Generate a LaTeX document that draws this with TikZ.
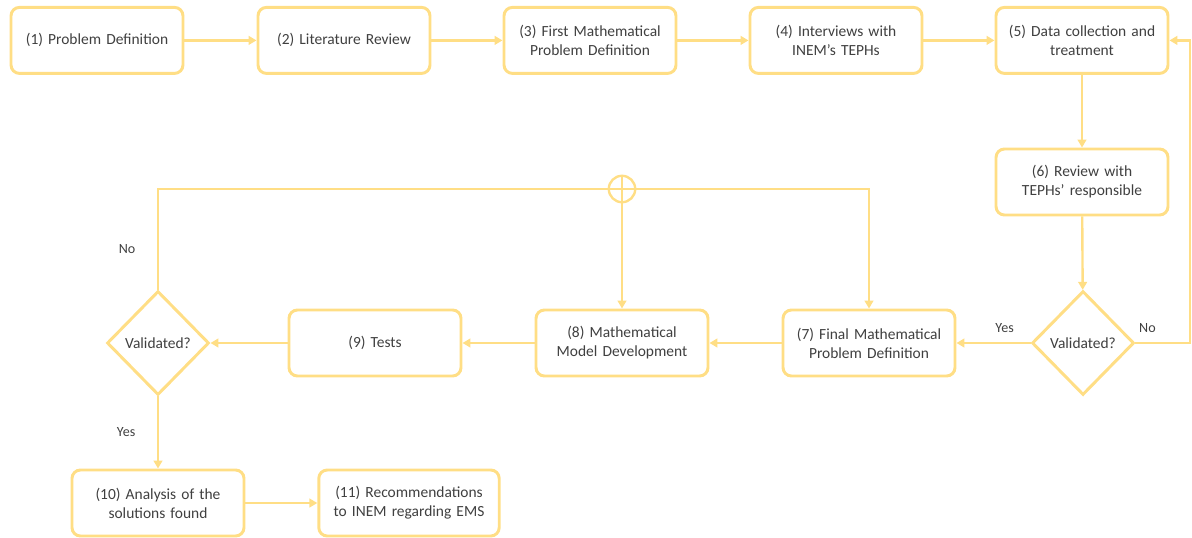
\documentclass[tikz,border=0pt]{standalone}
\usepackage{fontspec}
\setmainfont{Carlito}
\usetikzlibrary{arrows.meta,positioning,calc,shapes.geometric}
\definecolor{flowline}{HTML}{FFDE85}
\definecolor{flowtext}{HTML}{404040}

\begin{document}
\begin{tikzpicture}[font=\fontsize{11pt}{13.5pt}\selectfont,text=flowtext,
stage/.style={draw=flowline,fill=white,rounded corners=6pt,line width=2.1pt,text width=4cm,minimum width=4.3cm,minimum height=1.65cm,align=center,inner sep=3pt},
check/.style={draw=flowline,fill=white,diamond,line width=2.1pt,minimum width=2.55cm,minimum height=2.6cm,inner sep=0pt,aspect=1},
arrow/.style={-{Triangle[length=2mm,width=2.2mm]},line width=1.7pt,draw=flowline},
lbl/.style={font=\fontsize{10pt}{12pt}\selectfont}]
\useasboundingbox (0,0) rectangle (29.8,-13.425);
\node[stage] (probdef) at (2.425,-1.01) {(1) Problem Definition};
\node[stage] (litrev) at (8.6,-1.01) {(2) Literature Review};
\node[stage] (firstmath) at (14.75,-1.01) {(3) First Mathematical\\Problem Definition};
\node[stage] (interv) at (20.9,-1.01) {(4) Interviews with\\INEM's TEPHs};
\node[stage] (datacol) at (27.05,-1.01) {(5) Data collection and\\treatment};
\node[stage] (review) at (27.05,-4.55) {(6) Review with\\TEPHs' responsible};
\node[check] (valone) at (27.075,-8.575) {Validated?};
\node[stage] (finalmath) at (21.725,-8.575) {(7) Final Mathematical\\Problem Definition};
\node[stage] (modeldev) at (15.55,-8.575) {(8) Mathematical\\Model Development};
\node[stage] (tests) at (9.375,-8.575) {(9) Tests};
\node[check] (valtwo) at (3.95,-8.575) {Validated?};
\node[stage] (analysis) at (3.95,-12.575) {(10) Analysis of the\\solutions found};
\node[stage,text width=4.3cm,minimum width=4.5cm] (recomm) at (10.225,-12.575) {(11) Recommendations\\to INEM regarding EMS};
\node[draw=flowline,circle,line width=1.7pt,minimum size=0.66cm,inner sep=0pt] (junction) at (15.55,-4.725) {};
\coordinate (loopright) at (29.75,0);
% top row
\draw[arrow] (probdef)--(litrev);
\draw[arrow] (litrev)--(firstmath);
\draw[arrow] (firstmath)--(interv);
\draw[arrow] (interv)--(datacol);
\draw[arrow] (datacol)--(review);
\draw[arrow] (review)--(valone);
% first check
\draw[arrow] (valone.west)--node[lbl,above=3pt,pos=.35]{Yes}(finalmath.east);
\draw[arrow] (valone.east)--node[lbl,above=3pt,pos=.22]{No}(valone.east-|loopright)--(datacol.east-|loopright)--(datacol.east);
% bottom row
\draw[arrow] (finalmath)--(modeldev);
\draw[arrow] (modeldev)--(tests);
\draw[arrow] (tests)--(valtwo);
% second check
\draw[arrow] (valtwo.north)--node[lbl,left=12pt,pos=.4]{No}(valtwo.north|-junction.center)--(junction.center-|finalmath.north)--(finalmath.north);
\draw[arrow] (junction.north)--(modeldev.north);
\draw[arrow] (valtwo.south)--node[lbl,left=12pt,pos=.5]{Yes}(analysis.north);
\draw[arrow] (analysis)--(recomm);
\end{tikzpicture}
\end{document}
